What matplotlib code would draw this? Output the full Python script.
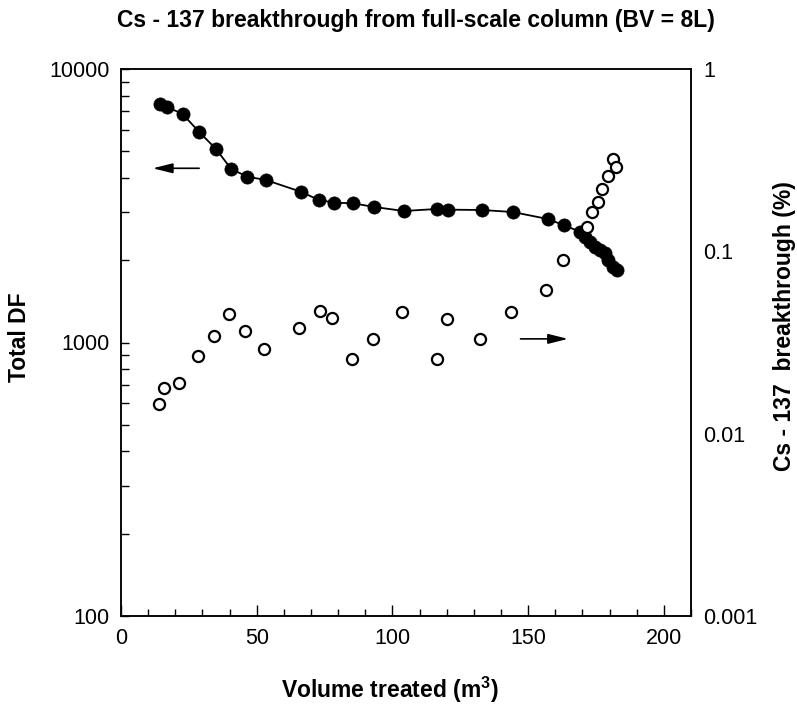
import matplotlib
matplotlib.use('Agg')
import matplotlib.pyplot as plt
from matplotlib.ticker import FixedLocator, MultipleLocator, NullLocator, LogLocator, NullFormatter

plt.rcParams['font.family'] = ['Liberation Sans', 'DejaVu Sans']
plt.rcParams['mathtext.fontset'] = 'custom'
plt.rcParams['mathtext.rm'] = 'Liberation Sans'
plt.rcParams['mathtext.bf'] = 'Liberation Sans:bold'

# Total DF (filled circles, left axis)
vol_df = [14.4, 16.8, 22.7, 28.8, 35.0, 40.5, 46.4, 53.3, 66.2, 72.9, 78.6, 85.6, 93.2,
          104.2, 116.3, 120.3, 133.0, 144.3, 157.2, 163.2, 169.1, 170.9, 172.7, 174.6,
          176.4, 178.3, 179.5, 181.3, 182.6]
total_df = [7450, 7280, 6845, 5885, 5100, 4320, 4040, 3930, 3560, 3320, 3245, 3228, 3130,
            3026, 3077, 3060, 3051, 3000, 2829, 2683, 2542, 2437, 2337, 2240,
            2178, 2119, 2003, 1893, 1841]

# Cs-137 breakthrough % (open circles, right axis)
vol_bt = [14.0, 15.8, 21.5, 28.3, 34.4, 39.8, 45.8, 52.6, 65.5, 73.3, 77.6, 85.0, 92.9,
          103.6, 116.4, 120.0, 132.2, 143.5, 156.6, 162.7, 171.7, 173.5, 175.6, 177.1,
          179.3, 181.1, 182.2]
breakthrough = [0.0145, 0.0177, 0.0189, 0.0268, 0.0344, 0.0455, 0.0365, 0.0293, 0.0379,
                0.0473, 0.0430, 0.0257, 0.0332, 0.0467, 0.0258, 0.0424, 0.0331, 0.0463,
                0.0612, 0.0897, 0.136, 0.164, 0.187, 0.219, 0.260, 0.321, 0.289]

left_ticks = [100, 1000, 10000]
left_labels = ['100', '1000', '10000']
right_ticks = [0.001, 0.01, 0.1, 1]
right_labels = ['0.001', '0.01', '0.1', '1']
x_ticks = [0, 50, 100, 150, 200]

# arrows: (tail, head)
arrow_left = ((28.8, 4335), (11.7, 4335))
arrow_right = ((147.2, 0.0331), (164.7, 0.0331))

W, H = 797, 704
fig = plt.figure(figsize=(W / 100, H / 100), dpi=100)
ax = fig.add_axes([121 / W, (H - 616) / H, (691 - 121) / W, (616 - 69) / H])
ax2 = ax.twinx()

ax.plot(vol_df, total_df, '-o', color='black', lw=1.3, markersize=9.5,
        markerfacecolor='black', markeredgewidth=0.5, zorder=3)
ax2.plot(vol_bt, breakthrough, 'o', linestyle='none', markersize=8,
         markerfacecolor='white', markeredgecolor='black', markeredgewidth=1.6, zorder=4)

ax.set_xlim(0, 210)
ax.set_yscale('log')
ax.set_ylim(100, 10000)
ax2.set_yscale('log')
ax2.set_ylim(0.001, 1)

ax.xaxis.set_major_locator(FixedLocator(x_ticks))
ax.xaxis.set_minor_locator(MultipleLocator(10))
ax.yaxis.set_major_locator(FixedLocator(left_ticks))
ax.set_yticklabels(left_labels)
ax.yaxis.set_minor_locator(LogLocator(base=10, subs=range(2, 10)))
ax.yaxis.set_minor_formatter(NullFormatter())

ax2.yaxis.set_major_locator(FixedLocator(right_ticks))
ax2.set_yticklabels(right_labels)
ax2.yaxis.set_minor_locator(NullLocator())

ax.tick_params(axis='x', which='major', direction='in', length=8, width=1.0,
               labelsize=15.5, pad=9, top=False)
ax.tick_params(axis='x', which='minor', direction='in', length=5, width=1.0, top=False)
ax.tick_params(axis='y', which='major', direction='in', length=6, width=1.0,
               labelsize=15.5, pad=8)
ax.tick_params(axis='y', which='minor', direction='in', length=6, width=1.0)
ax2.tick_params(axis='y', which='major', length=0, labelsize=15.5, pad=9)

for a in (ax, ax2):
    for s in a.spines.values():
        s.set_linewidth(1.1)

ax.annotate('', xy=arrow_left[1], xytext=arrow_left[0],
            arrowprops=dict(arrowstyle='-|>,head_length=1.2,head_width=0.3',
                            color='black', lw=1.2, shrinkA=0, shrinkB=0))
ax2.annotate('', xy=arrow_right[1], xytext=arrow_right[0],
             arrowprops=dict(arrowstyle='-|>,head_length=1.2,head_width=0.3',
                             color='black', lw=1.2, shrinkA=0, shrinkB=0))

ax.set_xlabel(r'Volume treated (m$^{\mathbf{3}}$)', fontsize=16.5, fontweight='bold')
ax.xaxis.set_label_coords((390 - 121) / 570, (616 - 690) / 547)
ax.xaxis.label.set_va('center')
ax.set_ylabel('Total DF', fontsize=16.5, fontweight='bold')
ax.yaxis.set_label_coords((20 - 121) / 570, 0.51)
ax.yaxis.label.set_va('center')
ax2.set_ylabel('Cs - 137  breakthrough (%)', fontsize=16.5, fontweight='bold',
               rotation=90)
ax2.yaxis.set_label_coords((784 - 121) / 570, 0.53)
ax2.yaxis.label.set_va('center')

fig.text(416 / W, 1 - 20 / H, 'Cs - 137 breakthrough from full-scale column (BV = 8L)',
         ha='center', va='center', fontsize=16.5, fontweight='bold')

fig.savefig('out.png', dpi=100)
